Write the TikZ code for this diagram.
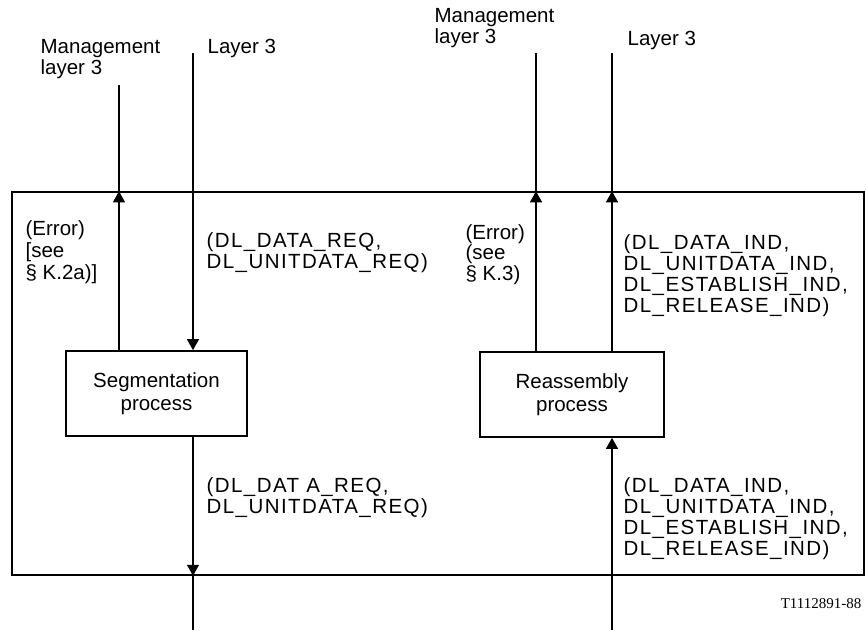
\documentclass[tikz,border=0pt]{standalone}
\usepackage{fontspec}
\setmainfont{Liberation Sans}
\newfontfamily\siglabelfont[LetterSpace=7]{Liberation Sans}
\newfontfamily\refnofont{Liberation Serif}
\usetikzlibrary{arrows.meta}

\begin{document}
\begin{tikzpicture}[x=1pt,y=-1pt,line width=1.3pt,
  procbox/.style={draw,line width=1.7pt,minimum width=181pt,minimum height=85pt,
    align=center,font=\fontsize{20.5}{23}\selectfont},
  lbl/.style={anchor=base west,inner sep=0pt,align=left,font=\fontsize{20.5}{21}\selectfont},
  sig/.style={anchor=base west,inner sep=0pt,align=left,font=\siglabelfont\fontsize{20.5}{21}\selectfont},
  tip/.style={-{Triangle[width=12pt,length=11pt]}}
]
  \useasboundingbox (0,0) rectangle (866,630);

  \node[draw,line width=1.5pt,minimum width=852pt,minimum height=383pt,inner sep=0pt] (frame) at (438,383.5) {};
  \node[procbox] (seg) at (156.5,393.5) {Segmentation\\process};
  \node[procbox,minimum width=184pt] (reas) at (572,394.5) {Reassembly\\process};

  \coordinate (mgmtL) at (119,85);
  \coordinate (l3L) at (193,53);
  \coordinate (mgmtR) at (536,53);
  \coordinate (l3R) at (612,53);
  \coordinate (outL) at (193,630);
  \coordinate (outR) at (612,630);

  \node[lbl] (mgmtLtxt) at (40,74) {Management\\layer 3};
  \node[lbl] (l3Ltxt) at (207,53) {Layer 3};
  \node[lbl] (mgmtRtxt) at (434,43) {Management\\layer 3};
  \node[lbl] (l3Rtxt) at (627,45) {Layer 3};
  \node[lbl,font=\fontsize{20.5}{22}\selectfont] (errL) at (25,279) {(Error)\\{[}see\\§ K.2a)]};
  \node[lbl,font=\fontsize{20.5}{17}\selectfont] (errR) at (465,280) {(Error)\\(see\\§ K.3)};
  \node[sig] (reqtop) at (206,268) {(DL\_DATA\_REQ,\\DL\_UNITDATA\_REQ)};
  \node[sig] (indtop) at (623,312) {(DL\_DATA\_IND,\\DL\_UNITDATA\_IND,\\DL\_ESTABLISH\_IND,\\DL\_RELEASE\_IND)};
  \node[sig] (reqbot) at (206,513) {(DL\_DAT A\_REQ,\\DL\_UNITDATA\_REQ)};
  \node[sig] (indbot) at (623,555) {(DL\_DATA\_IND,\\DL\_UNITDATA\_IND,\\DL\_ESTABLISH\_IND,\\DL\_RELEASE\_IND)};
  \node[anchor=base east,inner sep=0pt,font=\refnofont\fontsize{15}{17}\selectfont] (refno) at (862,608) {T1112891-88};

  \draw (seg.north -| mgmtL) -- (mgmtL);
  \draw[tip] (seg.north -| mgmtL) -- (frame.north -| mgmtL);
  \draw[tip] (l3L) -- (seg.north -| l3L);
  \draw (seg.south -| l3L) -- (outL);
  \draw[tip] (seg.south -| l3L) -- (frame.south -| l3L);
  \draw (reas.north -| mgmtR) -- (mgmtR);
  \draw[tip] (reas.north -| mgmtR) -- (frame.north -| mgmtR);
  \draw (reas.north -| l3R) -- (l3R);
  \draw[tip] (reas.north -| l3R) -- (frame.north -| l3R);
  \draw[tip] (outR) -- (reas.south -| outR);
\end{tikzpicture}
\end{document}
